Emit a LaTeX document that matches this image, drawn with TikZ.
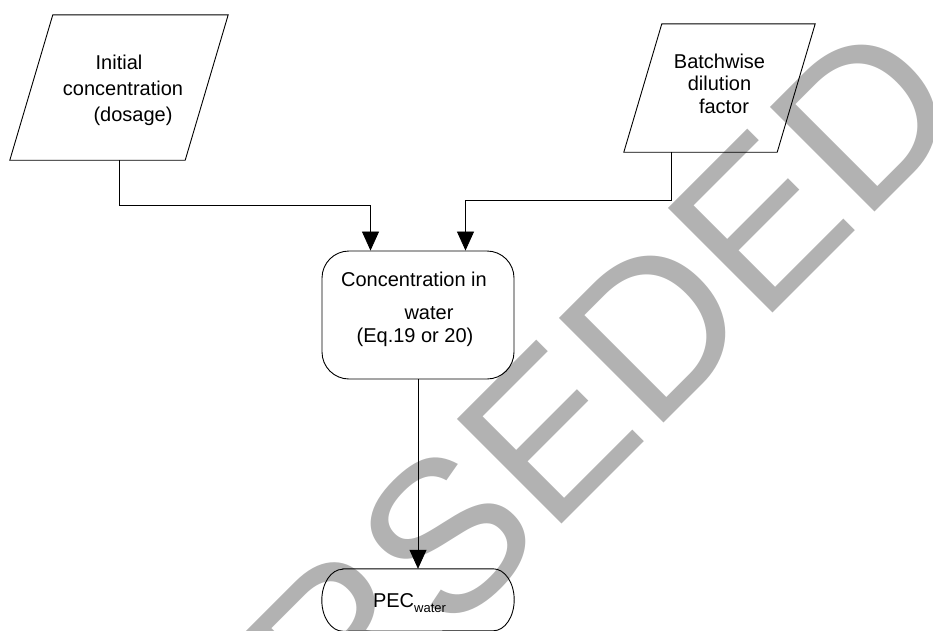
\documentclass[tikz,border=0pt]{standalone}
\usepackage{fontspec}
\setmainfont{Liberation Sans}
\usetikzlibrary{arrows.meta,calc}
\definecolor{stampgrey}{RGB}{178,178,178}
\begin{document}
\begin{tikzpicture}[x=1pt,y=-1pt,
  every node/.style={font=\fontsize{20}{26}\selectfont},
  datain/.style={rectangle,align=center,inner sep=0pt},
  outline/.style={line width=0.9pt},
  process/.style={draw,line width=0.9pt,rectangle,rounded corners=27pt,
    minimum width=192pt,minimum height=128pt,align=center,inner sep=0pt},
  flow/.style={line width=0.8pt,-{Triangle[length=19pt,width=17pt]}},
]
\useasboundingbox (0,0) rectangle (933,630);
\clip (0,0) rectangle (933,630);

% status stamp behind the chart
\node[font=\fontsize{215}{215}\selectfont,text=stampgrey,rotate=45,
      anchor=base west,inner sep=0pt,outer sep=0pt] (stamp) at (-75.4,1162) {SUPERSEDED};

% inputs (parallelograms drawn around the text nodes)
\node[datain,minimum width=175pt,minimum height=145pt] (p1) at (119,87.5)
  {\rule{0pt}{19.5pt}Initial\\\hspace*{8pt}concentration\\\hspace*{28pt}(dosage)};
\draw[outline] ([xshift=-21.5pt]p1.south west) -- ([xshift=-21.5pt]p1.south east)
  -- ([xshift=21.5pt]p1.north east) -- ([xshift=21.5pt]p1.north west) -- cycle;

\node[datain,minimum width=153pt,minimum height=128pt,font=\fontsize{20}{22.5}\selectfont] (p2) at (719.5,88)
  {Batchwise\\dilution\\\hspace*{9pt}factor\rule[-9pt]{0pt}{9pt}};
\draw[outline] ([xshift=-19pt]p2.south west) -- ([xshift=-19pt]p2.south east)
  -- ([xshift=19pt]p2.north east) -- ([xshift=19pt]p2.north west) -- cycle;

% calculation step
\node[process,font=\fontsize{20}{23}\selectfont] (c) at (418,315)
  {Concentration in\hspace*{8pt}\null\\[10pt]\hspace*{22pt}water\\(Eq.19 or 20)\hspace*{6pt}\null\rule[-16pt]{0pt}{16pt}};

% result
\node[minimum width=192pt,minimum height=62pt,inner sep=0pt] (pec) at (418,600)
  {\rule{0pt}{21pt}PEC\raisebox{-5pt}{\fontsize{13}{13}\selectfont water}\hspace*{17pt}\null};
\draw[outline] ([xshift=21pt]pec.north west) -- ([xshift=-21pt]pec.north east)
  arc[start angle=90,end angle=-90,x radius=21pt,y radius=31pt]
  -- ([xshift=21pt]pec.south west)
  arc[start angle=270,end angle=90,x radius=21pt,y radius=31pt] -- cycle;

% connectors
\draw[flow] (p1.south) -- ++(0,45) -| ([xshift=-47.5pt]c.north);
\draw[flow] ([xshift=-48.5pt]p2.south) -- ++(0,48) -| ([xshift=47.5pt]c.north);
\draw[flow] (c.south) -- (pec.north);
\end{tikzpicture}
\end{document}
